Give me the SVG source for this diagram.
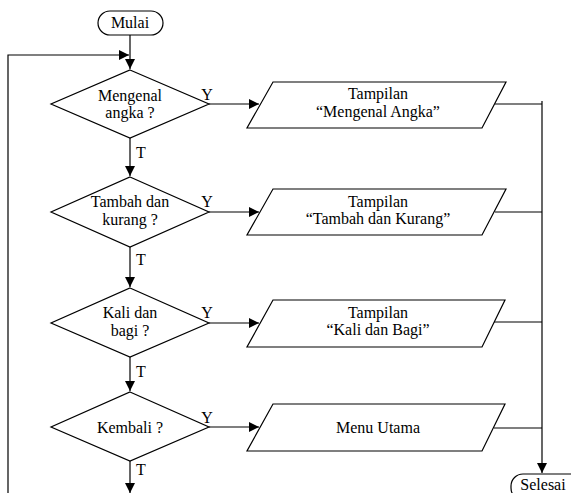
<svg xmlns="http://www.w3.org/2000/svg" width="571" height="493" viewBox="0 0 571 493">
<style>
.s{fill:#fff;stroke:#000;stroke-width:1.2}
.c{fill:none;stroke:#000;stroke-width:1.2}
text{font-family:'Liberation Serif','Times New Roman','DejaVu Serif',serif;font-size:16px;fill:#000;text-anchor:middle}
.l{text-anchor:start}
</style>
<defs>
<marker id="a" viewBox="0 0 10 10" refX="10" refY="5" markerWidth="10" markerHeight="10" markerUnits="userSpaceOnUse" orient="auto">
<path d="M0,0 L10,5 L0,10 z" fill="#000"/>
</marker>
</defs>
<rect width="571" height="493" fill="#fff"/>
<g id="connectors">
<path class="c" d="M130,35 V69" marker-end="url(#a)"/>
<path class="c" d="M8,493 V55 H129" marker-end="url(#a)"/>
<path class="c" d="M130,138 V176" marker-end="url(#a)"/>
<path class="c" d="M130,247 V287" marker-end="url(#a)"/>
<path class="c" d="M130,357 V391" marker-end="url(#a)"/>
<path class="c" d="M130,461 V493" marker-end="url(#a)"/>
<path class="c" d="M209,104 H259" marker-end="url(#a)"/>
<path class="c" d="M209,212 H259" marker-end="url(#a)"/>
<path class="c" d="M209,323 H259" marker-end="url(#a)"/>
<path class="c" d="M209,427 H259" marker-end="url(#a)"/>
<path class="c" d="M495,104 H542"/>
<path class="c" d="M495,212 H542"/>
<path class="c" d="M494,322 H542"/>
<path class="c" d="M494,428 H542"/>
<path class="c" d="M542,101 V473" marker-end="url(#a)"/>
<text x="207" y="100" font-family="Liberation Serif, serif">Y</text>
<text x="207" y="207" font-family="Liberation Serif, serif">Y</text>
<text x="207" y="318" font-family="Liberation Serif, serif">Y</text>
<text x="207" y="423" font-family="Liberation Serif, serif">Y</text>
<text class="l" x="136" y="158" font-family="Liberation Serif, serif">T</text>
<text class="l" x="136" y="265" font-family="Liberation Serif, serif">T</text>
<text class="l" x="136" y="377" font-family="Liberation Serif, serif">T</text>
<text class="l" x="136" y="475" font-family="Liberation Serif, serif">T</text>
</g>
<g id="mulai">
<rect class="s" x="98" y="11" width="65" height="24" rx="12"/>
<text x="130" y="28" font-family="Liberation Serif, serif">Mulai</text>
</g>
<g id="d1">
<polygon class="s" points="130,70 209,104 130,138 51,104"/>
<text x="130" y="101" font-family="Liberation Serif, serif">Mengenal</text>
<text x="130" y="118" font-family="Liberation Serif, serif">angka ?</text>
</g>
<g id="d2">
<polygon class="s" points="130,177 209,212 130,247 51,212"/>
<text x="130" y="207" font-family="Liberation Serif, serif">Tambah dan</text>
<text x="130" y="225" font-family="Liberation Serif, serif">kurang ?</text>
</g>
<g id="d3">
<polygon class="s" points="130,288 209,323 130,357 51,323"/>
<text x="130" y="318" font-family="Liberation Serif, serif">Kali dan</text>
<text x="130" y="336" font-family="Liberation Serif, serif">bagi ?</text>
</g>
<g id="d4">
<polygon class="s" points="130,392 209,427 130,461 51,427"/>
<text x="130" y="433" font-family="Liberation Serif, serif">Kembali ?</text>
</g>
<g id="p1">
<polygon class="s" points="273,82 506,82 482,128 247,128"/>
<text x="378" y="99" font-family="Liberation Serif, serif">Tampilan</text>
<text x="378" y="117" font-family="Liberation Serif, serif">“Mengenal Angka”</text>
</g>
<g id="p2">
<polygon class="s" points="273,189 506,189 482,235 247,235"/>
<text x="378" y="207" font-family="Liberation Serif, serif">Tampilan</text>
<text x="378" y="224" font-family="Liberation Serif, serif">“Tambah dan Kurang”</text>
</g>
<g id="p3">
<polygon class="s" points="273,300 505,300 482,347 247,347"/>
<text x="378" y="318" font-family="Liberation Serif, serif">Tampilan</text>
<text x="378" y="335" font-family="Liberation Serif, serif">“Kali dan Bagi”</text>
</g>
<g id="p4">
<polygon class="s" points="273,404 505,404 482,451 247,451"/>
<text x="378" y="433" font-family="Liberation Serif, serif">Menu Utama</text>
</g>
<g id="selesai">
<rect class="s" x="511" y="474" width="72" height="26" rx="12"/>
<text x="543" y="490" font-family="Liberation Serif, serif">Selesai</text>
</g>
</svg>
